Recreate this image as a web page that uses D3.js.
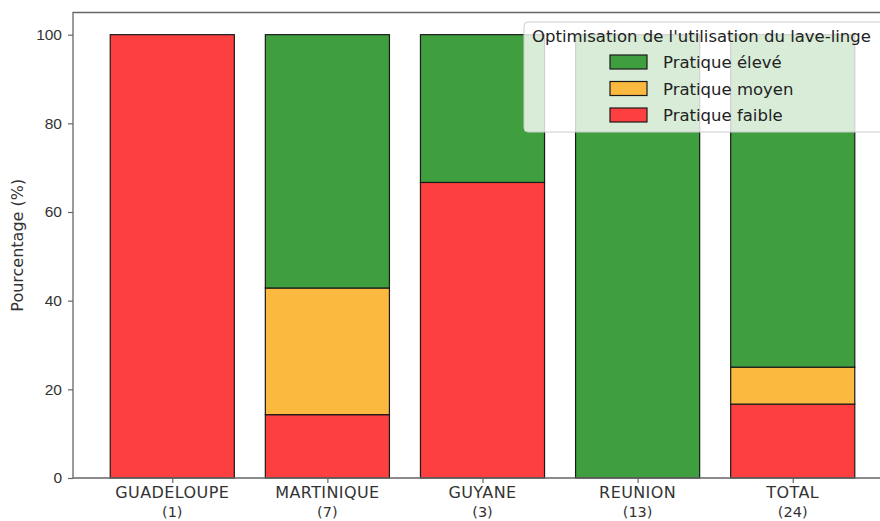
<!DOCTYPE html>
<html>
<head>
<meta charset="utf-8">
<script src="https://cdn.jsdelivr.net/npm/d3@7"></script>
<style>
  html, body { margin: 0; padding: 0; background: #fff; }
  svg { display: block; font-family: "DejaVu Sans", "Open Sans", sans-serif; }
</style>
</head>
<body>
<svg id="chart" width="880" height="521"></svg>
<script>
// Regions and respondent counts
const regions = ["GUADELOUPE", "MARTINIQUE", "GUYANE", "REUNION", "TOTAL"];
const counts = [1, 7, 3, 13, 24];

// Percentage shares per practice level (stacked bottom to top)
const faible = [100, 14.29, 66.67, 0, 16.67];
const moyen  = [0, 28.57, 0, 0, 8.33];
const eleve  = [0, 57.14, 33.33, 100, 75];

const seriesNames = ["Pratique faible", "Pratique moyen", "Pratique élevé"];
const seriesColors = ["#fd3f3f", "#fbb93f", "#3f9f3f"];
const yTicks = [0, 20, 40, 60, 80, 100];

const legendTitle = "Optimisation de l'utilisation du lave-linge";

const svg = d3.select("#chart");
const plotLeft = 73, plotRight = 892, plotTop = 12.5, plotBottom = 478;

const rows = regions.map((r, i) => ({
  region: r, count: counts[i],
  "Pratique faible": faible[i], "Pratique moyen": moyen[i], "Pratique élevé": eleve[i]
}));
const stacked = d3.stack().keys(seriesNames)(rows);

// x positions 0..4 with padding on both sides
const x = d3.scaleLinear().domain([-0.64, 4.64]).range([plotLeft, plotRight]);
const y = d3.scaleLinear().domain([0, 105]).range([plotBottom, plotTop]);
const barW = x(0.4) - x(-0.4);

// Bars
stacked.forEach((layer, k) => {
  svg.append("g").selectAll("rect")
    .data(layer.filter(d => d[1] - d[0] > 0))
    .join("rect")
    .attr("x", d => x(regions.indexOf(d.data.region)) - barW / 2)
    .attr("width", barW)
    .attr("y", d => y(d[1]))
    .attr("height", d => y(d[0]) - y(d[1]))
    .attr("fill", seriesColors[k])
    .attr("stroke", "#1a1a1a")
    .attr("stroke-width", 1.2);
});

// Frame (left, top, bottom spines)
svg.append("path")
  .attr("d", `M${plotRight},${plotTop}H${plotLeft}V${plotBottom}H${plotRight}`)
  .attr("fill", "none").attr("stroke", "#666").attr("stroke-width", 1.3);

// Y axis
const yAxis = svg.append("g").attr("transform", `translate(${plotLeft},0)`)
  .call(d3.axisLeft(y).tickValues(yTicks).tickSize(5).tickPadding(6));
yAxis.select(".domain").remove();
yAxis.selectAll("line").attr("stroke", "#666").attr("stroke-width", 1.2);
yAxis.selectAll("text").attr("font-size", 15.5).attr("fill", "#333");

// X axis with two-line labels
const xAxis = svg.append("g").attr("transform", `translate(0,${plotBottom})`)
  .call(d3.axisBottom(x).tickValues(d3.range(regions.length)).tickSize(5).tickFormat(""));
xAxis.select(".domain").remove();
xAxis.selectAll("line").attr("stroke", "#666").attr("stroke-width", 1.2);
regions.forEach((r, i) => {
  const g = svg.append("g").attr("fill", "#333").attr("text-anchor", "middle");
  g.append("text").attr("x", x(i)).attr("y", plotBottom + 20)
    .attr("font-size", 16).attr("letter-spacing", 0.4).text(r);
  g.append("text").attr("x", x(i)).attr("y", plotBottom + 38.5)
    .attr("font-size", 14.5).text(`(${counts[i]})`);
});

// Y label
svg.append("text")
  .attr("transform", `translate(23,${(plotTop + plotBottom) / 2}) rotate(-90)`)
  .attr("text-anchor", "middle").attr("font-size", 16).attr("fill", "#333")
  .text("Pourcentage (%)");

// Legend
const lg = svg.append("g");
lg.append("rect")
  .attr("x", 524).attr("y", 22).attr("width", 380).attr("height", 110)
  .attr("rx", 4).attr("fill", "rgba(255,255,255,0.8)")
  .attr("stroke", "#ccc").attr("stroke-width", 1);
lg.append("text").attr("x", 532).attr("y", 42)
  .attr("font-size", 16.5).attr("fill", "#222").text(legendTitle);
const legendOrder = [2, 1, 0];
legendOrder.forEach((k, j) => {
  const yy = 55 + j * 26.5;
  lg.append("rect").attr("x", 610).attr("y", yy).attr("width", 37).attr("height", 14)
    .attr("fill", seriesColors[k]).attr("stroke", "#1a1a1a").attr("stroke-width", 1.2);
  lg.append("text").attr("x", 663).attr("y", yy + 13)
    .attr("font-size", 16.5).attr("fill", "#222").text(seriesNames[k]);
});
</script>
</body>
</html>
